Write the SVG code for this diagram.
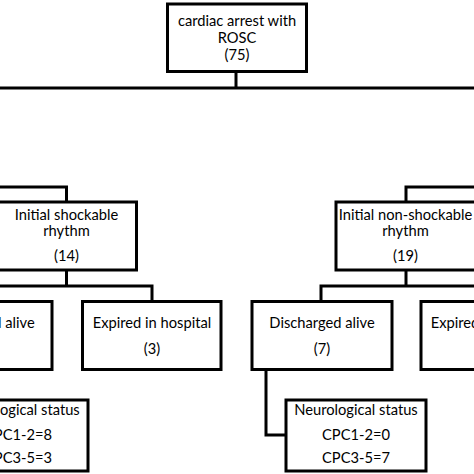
<svg xmlns="http://www.w3.org/2000/svg" width="474" height="474" viewBox="0 0 474 474">
<style>
.box{fill:#fff;stroke:#000;stroke-width:3}
.c{fill:none;stroke:#000;stroke-width:3}
text{font-family:Lato,"Liberation Sans",sans-serif;font-size:14.7px;fill:#000;text-anchor:middle}
</style>
<rect width="474" height="474" fill="#fff"/>
<g id="connectors">
<polyline class="c" points="236,72 236,88"/>
<line class="c" x1="0" y1="88" x2="474" y2="88"/>
<polyline class="c" points="0,187 66.5,187 66.5,202"/>
<polyline class="c" points="474,187 406,187 406,202"/>
<polyline class="c" points="66.5,270 66.5,286"/>
<polyline class="c" points="-18,301 -18,286 152,286 152,301"/>
<polyline class="c" points="406,270 406,286"/>
<polyline class="c" points="321,301 321,286 490,286 490,301"/>
<polyline class="c" points="266,370 266,435 286,435"/>
</g>
<g id="n-root">
<rect class="box" x="167.5" y="4" width="139" height="67.5"/>
<text x="237" y="26">cardiac arrest with</text>
<text x="237" y="43">ROSC</text>
<text x="237" y="60">(75)</text>
</g>
<g id="n-shock">
<rect class="box" x="-4" y="202" width="140.5" height="68"/>
<text x="66.5" y="220">Initial shockable</text>
<text x="66.5" y="236">rhythm</text>
<text x="66.5" y="261">(14)</text>
</g>
<g id="n-nonshock">
<rect class="box" x="336" y="202" width="140.5" height="68"/>
<text x="405.5" y="220">Initial non-shockable</text>
<text x="405.5" y="236">rhythm</text>
<text x="405.5" y="261">(19)</text>
</g>
<g id="n-shock-alive">
<rect class="box" x="-88" y="301.5" width="140" height="68"/>
<text x="-18" y="328">Discharged alive</text>
</g>
<g id="n-shock-expired">
<rect class="box" x="82.5" y="301.5" width="138.5" height="68"/>
<text x="152" y="328">Expired in hospital</text>
<text x="152" y="354">(3)</text>
</g>
<g id="n-nonshock-alive">
<rect class="box" x="252" y="301.5" width="140" height="68"/>
<text x="322" y="328">Discharged alive</text>
<text x="322" y="354">(7)</text>
</g>
<g id="n-nonshock-expired">
<rect class="box" x="421" y="301.5" width="139" height="68"/>
<text x="490" y="328">Expired in hospital</text>
</g>
<g id="n-shock-neuro">
<rect class="box" x="-52" y="400" width="140" height="71"/>
<text x="18" y="415">Neurological status</text>
<text x="18" y="440">CPC1-2=8</text>
<text x="18" y="463">CPC3-5=3</text>
</g>
<g id="n-nonshock-neuro">
<rect class="box" x="286" y="400" width="140" height="71"/>
<text x="356" y="415">Neurological status</text>
<text x="356" y="440">CPC1-2=0</text>
<text x="356" y="463">CPC3-5=7</text>
</g>
</svg>
